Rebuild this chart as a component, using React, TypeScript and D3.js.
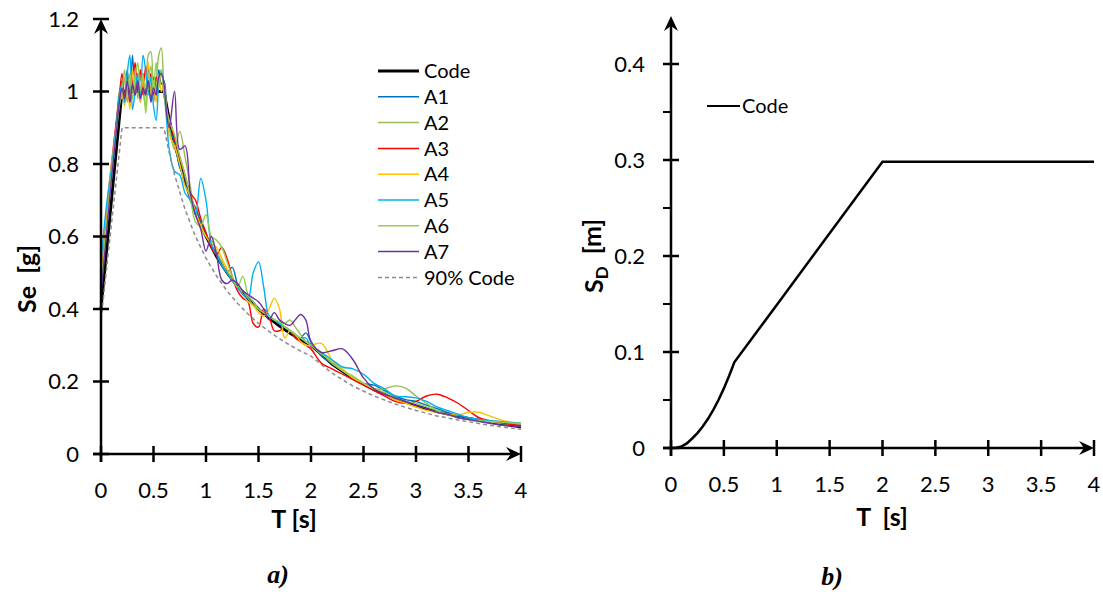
import React from 'react';
import * as d3 from 'd3';

// ---------- DATA ----------
const periods = [
  0, 0.05, 0.1, 0.15, 0.175, 0.2, 0.225, 0.25, 0.275, 0.3, 0.325, 0.35, 0.375, 0.4, 0.425, 0.45, 0.475, 0.5,
  0.525, 0.55, 0.575, 0.6, 0.625, 0.65, 0.7, 0.75, 0.8, 0.85, 0.9, 0.95, 1.0, 1.05, 1.1, 1.15, 1.2, 1.25,
  1.3, 1.35, 1.4, 1.45, 1.5, 1.55, 1.6, 1.65, 1.7, 1.75, 1.8, 1.85, 1.9, 1.95, 2.0, 2.1, 2.2, 2.3, 2.4, 2.5,
  2.6, 2.7, 2.8, 2.9, 3.0, 3.1, 3.2, 3.3, 3.4, 3.5, 3.6, 3.7, 3.8, 3.9, 4.0,
];

const A1 = [
  0.50, 0.64, 0.76, 0.90, 0.98, 1.03, 0.99, 1.06, 0.98, 1.10, 0.99, 1.04, 0.97, 1.05, 1.00, 1.07, 0.98, 1.04,
  1.00, 1.06, 1.02, 1.03, 0.96, 0.90, 0.86, 0.79, 0.76, 0.70, 0.68, 0.64, 0.61, 0.57, 0.55, 0.53, 0.50, 0.515,
  0.47, 0.45, 0.43, 0.42, 0.40, 0.39, 0.38, 0.37, 0.36, 0.35, 0.34, 0.325, 0.32, 0.334, 0.31, 0.27, 0.25, 0.23, 0.21, 0.195,
  0.19, 0.175, 0.16, 0.15, 0.145, 0.135, 0.125, 0.115, 0.105, 0.10, 0.095, 0.09, 0.085, 0.082, 0.08,
];
const A2 = [
  0.46, 0.62, 0.78, 0.92, 1.00, 0.98, 1.04, 0.97, 1.03, 1.00, 1.05, 0.98, 1.04, 1.00, 0.96, 1.10, 1.11, 0.97,
  1.02, 1.10, 1.12, 1.00, 0.95, 0.90, 0.84, 0.89, 0.82, 0.74, 0.66, 0.63, 0.60, 0.59, 0.56, 0.53, 0.50, 0.48,
  0.46, 0.45, 0.43, 0.41, 0.40, 0.39, 0.38, 0.37, 0.36, 0.36, 0.37, 0.35, 0.33, 0.31, 0.30, 0.28, 0.25, 0.23, 0.21, 0.195,
  0.18, 0.18, 0.188, 0.182, 0.16, 0.14, 0.12, 0.11, 0.10, 0.095, 0.09, 0.088, 0.085, 0.082, 0.08,
];
const A3 = [
  0.48, 0.66, 0.80, 0.93, 0.99, 1.05, 0.98, 1.04, 0.99, 1.02, 1.08, 1.00, 1.06, 0.99, 1.07, 1.01, 1.05, 0.99,
  1.04, 1.02, 1.05, 1.01, 0.95, 0.92, 0.87, 0.82, 0.77, 0.72, 0.70, 0.65, 0.61, 0.57, 0.55, 0.57, 0.54, 0.49,
  0.45, 0.43, 0.42, 0.36, 0.35, 0.40, 0.38, 0.34, 0.34, 0.35, 0.34, 0.32, 0.31, 0.30, 0.29, 0.25, 0.235, 0.22, 0.205, 0.19,
  0.175, 0.16, 0.145, 0.14, 0.145, 0.16, 0.165, 0.155, 0.14, 0.12, 0.10, 0.092, 0.087, 0.082, 0.078,
];
const A4 = [
  0.52, 0.67, 0.80, 0.91, 0.97, 1.00, 0.96, 1.03, 0.95, 1.06, 1.00, 1.05, 0.97, 1.04, 1.01, 1.08, 0.99, 1.03,
  0.97, 1.04, 1.00, 1.02, 0.94, 0.88, 0.85, 0.80, 0.74, 0.71, 0.67, 0.63, 0.60, 0.58, 0.57, 0.54, 0.51, 0.48,
  0.47, 0.44, 0.42, 0.41, 0.39, 0.38, 0.40, 0.43, 0.40, 0.32, 0.34, 0.33, 0.31, 0.30, 0.30, 0.305, 0.26, 0.235, 0.21, 0.195,
  0.18, 0.165, 0.15, 0.14, 0.13, 0.12, 0.115, 0.11, 0.108, 0.115, 0.115, 0.105, 0.095, 0.088, 0.085,
];
const A5 = [
  0.53, 0.68, 0.79, 0.92, 0.99, 1.02, 0.97, 1.05, 1.10, 0.95, 1.00, 1.05, 0.98, 1.10, 1.06, 0.99, 1.04, 0.96,
  0.92, 1.02, 1.06, 1.00, 0.92, 0.84, 0.78, 0.77, 0.72, 0.70, 0.66, 0.76, 0.70, 0.58, 0.55, 0.52, 0.50, 0.48,
  0.46, 0.44, 0.43, 0.50, 0.53, 0.46, 0.38, 0.37, 0.36, 0.35, 0.34, 0.33, 0.32, 0.32, 0.30, 0.28, 0.26, 0.24, 0.235, 0.22,
  0.195, 0.18, 0.16, 0.158, 0.155, 0.145, 0.13, 0.12, 0.11, 0.10, 0.095, 0.092, 0.09, 0.087, 0.085,
];
const A6 = [
  0.47, 0.63, 0.77, 0.90, 0.96, 1.00, 1.06, 0.99, 1.05, 0.98, 1.04, 1.08, 1.00, 1.05, 0.94, 1.02, 1.07, 1.00,
  1.08, 1.01, 1.06, 0.99, 0.95, 0.92, 0.88, 0.82, 0.77, 0.71, 0.64, 0.63, 0.66, 0.60, 0.59, 0.57, 0.53, 0.49,
  0.46, 0.49, 0.44, 0.42, 0.40, 0.39, 0.38, 0.37, 0.365, 0.35, 0.34, 0.33, 0.32, 0.31, 0.30, 0.275, 0.255, 0.23, 0.215, 0.195,
  0.18, 0.17, 0.155, 0.145, 0.14, 0.13, 0.12, 0.11, 0.10, 0.095, 0.092, 0.09, 0.088, 0.086, 0.085,
];
const A7 = [
  0.44, 0.60, 0.76, 0.90, 0.97, 1.01, 0.98, 1.03, 0.97, 1.02, 0.99, 1.03, 0.98, 1.01, 0.99, 1.03, 0.97, 1.01,
  0.99, 1.04, 1.05, 1.02, 0.94, 0.90, 1.00, 0.84, 0.85, 0.72, 0.66, 0.62, 0.56, 0.60, 0.55, 0.48, 0.47, 0.48,
  0.47, 0.45, 0.44, 0.43, 0.42, 0.40, 0.37, 0.39, 0.37, 0.36, 0.355, 0.37, 0.385, 0.37, 0.31, 0.28, 0.285, 0.29, 0.26, 0.21,
  0.18, 0.165, 0.155, 0.145, 0.135, 0.125, 0.115, 0.11, 0.10, 0.095, 0.09, 0.085, 0.08, 0.078, 0.075,
];

const codePeriods = [0, 0.2, 0.6, 0.65, 0.7, 0.8, 0.9, 1.0, 1.1, 1.2, 1.3, 1.4, 1.5, 1.6, 1.7, 1.8, 1.9, 2.0, 2.2, 2.4, 2.6, 2.8, 3.0, 3.2, 3.4, 3.6, 3.8, 4.0];
const codeSe = [0.4, 1.0, 1.0, 0.923, 0.857, 0.75, 0.667, 0.6, 0.545, 0.5, 0.462, 0.429, 0.4, 0.375, 0.353, 0.333, 0.316, 0.3, 0.248, 0.208, 0.178, 0.153, 0.133, 0.117, 0.104, 0.093, 0.083, 0.075];
const code90Se = [0.37, 0.9, 0.9, 0.831, 0.771, 0.675, 0.6, 0.54, 0.491, 0.45, 0.416, 0.386, 0.36, 0.338, 0.318, 0.3, 0.284, 0.27, 0.223, 0.187, 0.16, 0.138, 0.12, 0.105, 0.094, 0.084, 0.075, 0.068];

const sdPeriods = [0, 0.05, 0.1, 0.15, 0.2, 0.25, 0.3, 0.35, 0.4, 0.45, 0.5, 0.55, 0.6, 1.0, 1.5, 2.0, 4.0];
const sdValues = [0, 0.0003, 0.0017, 0.0048, 0.0099, 0.0155, 0.0224, 0.0304, 0.0398, 0.0503, 0.0621, 0.0752, 0.0895, 0.149, 0.2237, 0.2982, 0.2982];

const seriesNames = ['A1', 'A2', 'A3', 'A4', 'A5', 'A6', 'A7'];
const seriesValues = [A1, A2, A3, A4, A5, A6, A7];

const xTicks = [0, 0.5, 1, 1.5, 2, 2.5, 3, 3.5, 4];
const xTickLabels = ['0', '0.5', '1', '1.5', '2', '2.5', '3', '3.5', '4'];
const seTicks = [0, 0.2, 0.4, 0.6, 0.8, 1, 1.2];
const seTickLabels = ['0', '0.2', '0.4', '0.6', '0.8', '1', '1.2'];
const sdTicks = [0, 0.1, 0.2, 0.3, 0.4];
const sdTickLabels = ['0', '0.1', '0.2', '0.3', '0.4'];
const sdMinorTicks = [0.05, 0.15, 0.25, 0.35];

// ---------- STYLE ----------
const seriesColors = ['#0070C0', '#9BBB59', '#FF0000', '#FFC000', '#00B0F0', '#92D050', '#7030A0'];
const FONT = 'Lato, "Open Sans", sans-serif';
const W = 1103;
const H = 592;

type Pt = [number, number];

function Axes({ x, y, yTicks, yLabels, minor, labelRight }: any) {
  const [x0, x1] = x.range();
  const [y0, y1] = y.range();
  const sw = 2.5;
  return (
    <g>
      {/* y axis */}
      <line x1={x0} y1={y0 + 8} x2={x0} y2={y1 + 4} stroke="#000" strokeWidth={sw} />
      <path d={`M${x0},${y1} L${x0 - 7},${y1 + 15} L${x0},${y1 + 10} L${x0 + 7},${y1 + 15} Z`} fill="#000" />
      {/* x axis */}
      <line x1={x0 - 8} y1={y0} x2={x1 - 4} y2={y0} stroke="#000" strokeWidth={sw} />
      <path d={`M${x1},${y0} L${x1 - 15},${y0 - 7} L${x1 - 10},${y0} L${x1 - 15},${y0 + 7} Z`} fill="#000" />
      {yTicks.map((t: number, i: number) => (
        <g key={'yt' + i}>
          <line x1={x0 - 8} x2={x0 + 8} y1={y(t)} y2={y(t)} stroke="#000" strokeWidth={sw} />
          <text x={labelRight} y={y(t)} dy="0.36em" textAnchor="end" fontFamily={FONT} fontSize={22} fill="#000">
            {yLabels[i]}
          </text>
        </g>
      ))}
      {(minor || []).map((t: number, i: number) => (
        <line key={'ym' + i} x1={x0 - 8} x2={x0} y1={y(t)} y2={y(t)} stroke="#000" strokeWidth={2} />
      ))}
      {xTicks.map((t, i) => (
        <g key={'xt' + i}>
          <line x1={x(t)} x2={x(t)} y1={y0 - 8} y2={y0 + 8} stroke="#000" strokeWidth={sw} />
          <text x={x(t)} y={y0 + 36} dy="0.36em" textAnchor="middle" fontFamily={FONT} fontSize={22} fill="#000">
            {xTickLabels[i]}
          </text>
        </g>
      ))}
    </g>
  );
}

export default function App() {
  const xL = d3.scaleLinear().domain([0, 4]).range([101, 521]);
  const yL = d3.scaleLinear().domain([0, 1.2]).range([454, 19]);
  const xR = d3.scaleLinear().domain([0, 4]).range([671, 1094]);
  const yR = d3.scaleLinear().domain([0, 0.45]).range([448, 16]);

  const smooth = d3
    .line<Pt>()
    .x((d) => xL(d[0]))
    .y((d) => yL(d[1]))
    .curve(d3.curveCatmullRom.alpha(0.5));
  const straight = d3
    .line<Pt>()
    .x((d) => xL(d[0]))
    .y((d) => yL(d[1]));
  const sdLine = d3
    .line<Pt>()
    .x((d) => xR(d[0]))
    .y((d) => yR(d[1]));

  const codePts: Pt[] = codePeriods.map((t, i) => [t, codeSe[i]]);
  const code90Pts: Pt[] = codePeriods.map((t, i) => [t, code90Se[i]]);
  const sdPts: Pt[] = sdPeriods.map((t, i) => [t, sdValues[i]]);

  const legendItems = [
    { name: 'Code', color: '#000', width: 2.8, dash: undefined as string | undefined },
    ...seriesNames.map((n, i) => ({ name: n, color: seriesColors[i], width: 1.5, dash: undefined as string | undefined })),
    { name: '90% Code', color: '#8C8C8C', width: 1.5, dash: '4,3' },
  ];

  return (
    <svg width={W} height={H} style={{ position: 'absolute', left: 0, top: 0, background: '#fff' }}>
      <rect width={W} height={H} fill="#fff" />
      {/* ---------- Chart a ---------- */}
      <g>
        <path d={straight(codePts) || ''} fill="none" stroke="#000" strokeWidth={2.8} />
        {seriesValues.map((vals, si) => (
          <path
            key={si}
            d={smooth(periods.map((t, i) => [t, vals[i]] as Pt)) || ''}
            fill="none"
            stroke={seriesColors[si]}
            strokeWidth={1.4}
          />
        ))}
        <path d={straight(code90Pts) || ''} fill="none" stroke="#8C8C8C" strokeWidth={1.5} strokeDasharray="4,3" />
        <Axes x={xL} y={yL} yTicks={seTicks} yLabels={seTickLabels} labelRight={79} />
        {legendItems.map((it, i) => {
          const ly = 71 + i * 25.8;
          return (
            <g key={it.name}>
              <line x1={378} x2={419} y1={ly} y2={ly} stroke={it.color} strokeWidth={it.width} strokeDasharray={it.dash} />
              <text x={424} y={ly} dy="0.36em" fontFamily={FONT} fontSize={20} fill="#000">
                {it.name}
              </text>
            </g>
          );
        })}
        <text
          transform="translate(27,279) rotate(-90)"
          textAnchor="middle"
          dy="0.36em"
          fontFamily={FONT}
          fontWeight="bold"
          fontSize={25}
          fill="#000"
          style={{ whiteSpace: 'pre' }}
        >
          {'Se  [g]'}
        </text>
        <text x={294} y={519} dy="0.36em" textAnchor="middle" fontFamily={FONT} fontWeight="bold" fontSize={25} fill="#000">
          T [s]
        </text>
        <text x={278} y={574} dy="0.36em" textAnchor="middle" fontFamily='"Liberation Serif", "DejaVu Serif", serif' fontWeight="bold" fontStyle="italic" fontSize={26} fill="#000">
          a)
        </text>
      </g>

      {/* ---------- Chart b ---------- */}
      <g>
        <path d={sdLine(sdPts) || ''} fill="none" stroke="#000" strokeWidth={2.5} />
        <Axes x={xR} y={yR} yTicks={sdTicks} yLabels={sdTickLabels} minor={sdMinorTicks} labelRight={645} />
        <line x1={707} x2={740} y1={106} y2={106} stroke="#000" strokeWidth={2.2} />
        <text x={742} y={106} dy="0.36em" fontFamily={FONT} fontSize={20} fill="#000">
          Code
        </text>
        <text
          transform="translate(594,256) rotate(-90)"
          textAnchor="middle"
          dy="0.36em"
          fontFamily={FONT}
          fontWeight="bold"
          fontSize={25}
          fill="#000"
        >
          S<tspan fontSize={17} dy="0.3em">D</tspan>
          <tspan dy="-0.3em" style={{ whiteSpace: 'pre' }}>{'  [m]'}</tspan>
        </text>
        <text x={882} y={517} dy="0.36em" textAnchor="middle" fontFamily={FONT} fontWeight="bold" fontSize={25} fill="#000" style={{ whiteSpace: 'pre' }}>
          {'T  [s]'}
        </text>
        <text x={832} y={576} dy="0.36em" textAnchor="middle" fontFamily='"Liberation Serif", "DejaVu Serif", serif' fontWeight="bold" fontStyle="italic" fontSize={26} fill="#000">
          b)
        </text>
      </g>
    </svg>
  );
}
